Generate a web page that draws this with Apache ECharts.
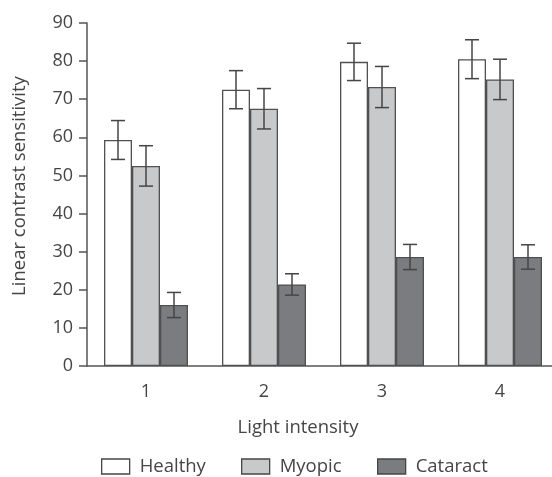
<!DOCTYPE html>
<html><head><meta charset="utf-8">
<script src="https://cdn.jsdelivr.net/npm/echarts@6/dist/echarts.min.js"></script>
<style>html,body{margin:0;padding:0;background:#fff}#c{width:552px;height:477px}</style>
</head><body><div id="c"></div>
<script>
var categories = ['1', '2', '3', '4'];
var seriesNames = ['Healthy', 'Myopic', 'Cataract'];
var healthy = [59.3, 72.5, 79.8, 80.5];
var myopic = [52.5, 67.5, 73.2, 75.2];
var cataract = [16.0, 21.4, 28.6, 28.6];
var healthyErr = [5.1, 5.0, 4.9, 5.1];
var myopicErr = [5.3, 5.3, 5.4, 5.3];
var cataractErr = [3.3, 2.8, 3.3, 3.2];
var yTicks = [0, 10, 20, 30, 40, 50, 60, 70, 80, 90];
var xTitle = 'Light intensity';
var yTitle = 'Linear contrast sensitivity';

var values = [healthy, myopic, cataract];
var errs = [healthyErr, myopicErr, cataractErr];
var fills = ['#ffffff', '#c8c9cb', '#7b7c7f'];
var BW = 28;
var font = 'Open Sans';
var txt = '#454545';

var series = [];
seriesNames.forEach(function (n, i) {
  series.push({
    name: n, type: 'bar', data: values[i], barWidth: BW, barGap: '0%',
    itemStyle: { color: fills[i], borderColor: '#505050', borderWidth: 1.3 },
    z: 2
  });
});
seriesNames.forEach(function (n, i) {
  series.push({
    type: 'custom', name: n + ' err', z: 5,
    data: values[i].map(function (v, k) { return [k, v, errs[i][k]]; }),
    renderItem: function (params, api) {
      var k = api.value(0), v = api.value(1), e = api.value(2);
      var hi = api.coord([k, v + e]);
      var lo = api.coord([k, v - e]);
      var x = hi[0] + (i - 1) * BW;
      var cap = 7;
      var st = { stroke: '#454545', lineWidth: 1.5 };
      return { type: 'group', children: [
        { type: 'line', shape: { x1: x, y1: hi[1], x2: x, y2: lo[1] }, style: st },
        { type: 'line', shape: { x1: x - cap, y1: hi[1], x2: x + cap, y2: hi[1] }, style: st },
        { type: 'line', shape: { x1: x - cap, y1: lo[1], x2: x + cap, y2: lo[1] }, style: st }
      ]};
    }
  });
});

var legendLefts = [101, 241, 377];
var legends = seriesNames.map(function (n, i) {
  return {
    data: [n], left: legendLefts[i], top: 457, itemWidth: 28, itemHeight: 15,
    icon: 'rect', selectedMode: false, padding: 0,
    textStyle: { fontFamily: font, fontSize: 18.5, color: txt, padding: [0, 0, 0, 5] },
    itemStyle: { borderColor: '#454545', borderWidth: 1.3 }
  };
});

var chart = echarts.init(document.getElementById('c'), null, { renderer: 'canvas' });
chart.setOption({
  animation: false,
  backgroundColor: '#fff',
  grid: { left: 87, width: 472, top: 23, height: 343, outerBoundsMode: 'none', containLabel: false },
  legend: legends,
  graphic: [{
    type: 'text', x: 20, y: 186, rotation: Math.PI / 2,
    style: { text: yTitle, fontFamily: font, fontSize: 18.5, fill: txt, align: 'center', verticalAlign: 'middle' }
  }, {
    type: 'text', x: 298, y: 428,
    style: { text: xTitle, fontFamily: font, fontSize: 18.5, fill: txt, align: 'center', verticalAlign: 'middle' }
  }],
  xAxis: {
    type: 'category', data: categories,
    axisLine: { lineStyle: { color: '#555', width: 1.5 } },
    axisTick: { length: 9, lineStyle: { color: '#555', width: 1.5 } },
    axisLabel: { fontFamily: font, fontSize: 18, color: txt, margin: 17 }
  },
  yAxis: {
    type: 'value', min: 0, max: 90, interval: 10,
    axisLine: { show: true, lineStyle: { color: '#555', width: 1.5 } },
    axisTick: { show: true, length: 8, lineStyle: { color: '#555', width: 1.5 } },
    splitLine: { show: false },
    axisLabel: { fontFamily: font, fontSize: 18, color: txt, margin: 14,
      formatter: function (v) { return yTicks.indexOf(v) >= 0 ? String(v) : ''; } }
  },
  series: series
});
</script></body></html>
